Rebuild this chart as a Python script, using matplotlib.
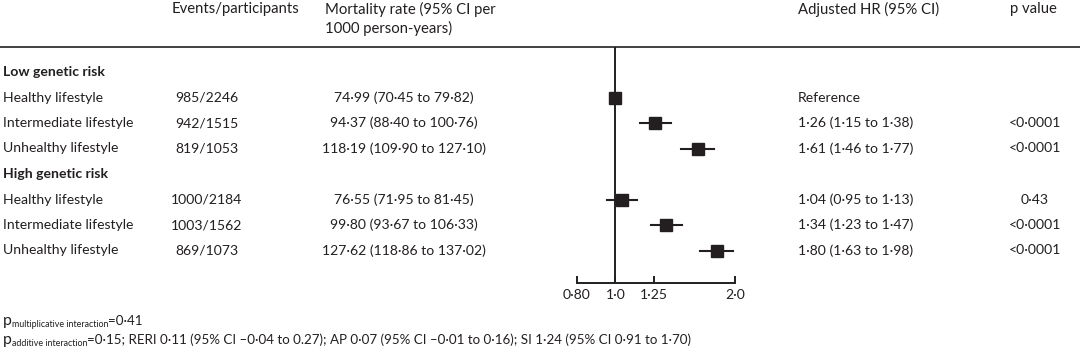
import numpy as np
import matplotlib
matplotlib.use("Agg")
import matplotlib.pyplot as plt

plt.rcParams['font.family'] = ['Lato', 'DejaVu Sans']

groups = ["Low genetic risk", "High genetic risk"]
lifestyles = ["Healthy lifestyle", "Intermediate lifestyle", "Unhealthy lifestyle"]
events = ["985/2246", "942/1515", "819/1053", "1000/2184", "1003/1562", "869/1073"]
rates = ["74·99 (70·45 to 79·82)", "94·37 (88·40 to 100·76)", "118·19 (109·90 to 127·10)",
         "76·55 (71·95 to 81·45)", "99·80 (93·67 to 106·33)", "127·62 (118·86 to 137·02)"]
hr = [1.0, 1.26, 1.61, 1.04, 1.34, 1.80]
hr_lo = [1.0, 1.15, 1.46, 0.95, 1.23, 1.63]
hr_hi = [1.0, 1.38, 1.77, 1.13, 1.47, 1.98]
hr_text = ["Reference", "1·26 (1·15 to 1·38)", "1·61 (1·46 to 1·77)",
           "1·04 (0·95 to 1·13)", "1·34 (1·23 to 1·47)", "1·80 (1·63 to 1·98)"]
pvals = ["", "<0·0001", "<0·0001", "0·43", "<0·0001", "<0·0001"]
xticks = [0.80, 1.0, 1.25, 2.0]
xticklabels = ["0·80", "1·0", "1·25", "2·0"]

W, H = 1080, 349
col = "#231f20"
fs = 10.1
hfs = 10.7

fig = plt.figure(figsize=(W / 100, H / 100), dpi=100)
bg = fig.add_axes([0, 0, 1, 1])
bg.set_xlim(0, W)
bg.set_ylim(H, 0)
bg.axis("off")

# headers
bg.text(172, 9, "Events/participants", fontsize=hfs, color=col, va="center")
bg.text(325, 9, "Mortality rate (95% CI per", fontsize=hfs, color=col, va="center")
bg.text(325, 28, "1000 person-years)", fontsize=hfs, color=col, va="center")
bg.text(798, 9, "Adjusted HR (95% CI)", fontsize=hfs, color=col, va="center")
bg.text(1033, 9, "p value", fontsize=hfs, color=col, va="center", ha="center")
bg.plot([0, W], [47, 47], color="#333333", lw=1.3)

# rows
row_y = lambda i: 72 + 25.5 * i
ys = []
r = 0
k = 0
for g in groups:
    bg.text(3, row_y(r), g, fontsize=fs, color=col, va="center", fontweight="bold")
    r += 1
    for ls in lifestyles:
        y = row_y(r)
        ys.append(y)
        bg.text(3, y, ls, fontsize=fs, color=col, va="center")
        bg.text(207, y, events[k], fontsize=fs, color=col, va="center", ha="center")
        bg.text(404, y, rates[k], fontsize=fs, color=col, va="center", ha="center")
        bg.text(798, y, hr_text[k], fontsize=fs, color=col, va="center")
        bg.text(1035, y, pvals[k], fontsize=fs, color=col, va="center", ha="center")
        r += 1
        k += 1

# forest panel
x0, x1 = 577, 735
ytop, ybot = 47, 283
ax = fig.add_axes([x0 / W, (H - ybot) / H, (x1 - x0) / W, (ybot - ytop) / H])
ax.set_xscale("log")
ax.set_xlim(0.8, 2.0)
ax.set_ylim(ybot, ytop)
ax.patch.set_alpha(0)
for s in ["top", "right", "left"]:
    ax.spines[s].set_visible(False)
ax.spines["bottom"].set_color(col)
ax.spines["bottom"].set_linewidth(1.4)
ax.set_yticks([])
ax.set_xticks(xticks)
ax.set_xticklabels(xticklabels, fontsize=fs, color=col)
ax.minorticks_off()
ax.tick_params(axis="x", direction="in", length=5, width=1.4, color=col, pad=4)
ax.axvline(1.0, color=col, lw=1.4)
for k in range(len(hr)):
    if hr_hi[k] > hr_lo[k]:
        ax.plot([hr_lo[k], hr_hi[k]], [ys[k], ys[k]], color=col, lw=1.5)
    ax.plot(hr[k], ys[k], marker="s", ms=8.5, color=col, mec=col)

# footnotes
fig.canvas.draw()
ren = fig.canvas.get_renderer()
inv = bg.transData.inverted()


def sub_line(y, sub, rest):
    t = bg.text(3, y, "p", fontsize=fs + 1.2, color=col, va="baseline")
    bb = t.get_window_extent(ren)
    xs = inv.transform((bb.x1, 0))[0]
    t2 = bg.text(xs, y + 1.8, sub, fontsize=6.4, color=col, va="baseline")
    bb2 = t2.get_window_extent(ren)
    xr = inv.transform((bb2.x1, 0))[0]
    bg.text(xr, y, rest, fontsize=9.6, color=col, va="baseline")


sub_line(325, "multiplicative interaction", "=0·41")
sub_line(344, "additive interaction",
         "=0·15; RERI 0·11 (95% CI –0·04 to 0.27); AP 0·07 (95% CI –0·01 to 0·16); SI 1·24 (95% CI 0·91 to 1·70)")

fig.savefig("out.png", dpi=100)
